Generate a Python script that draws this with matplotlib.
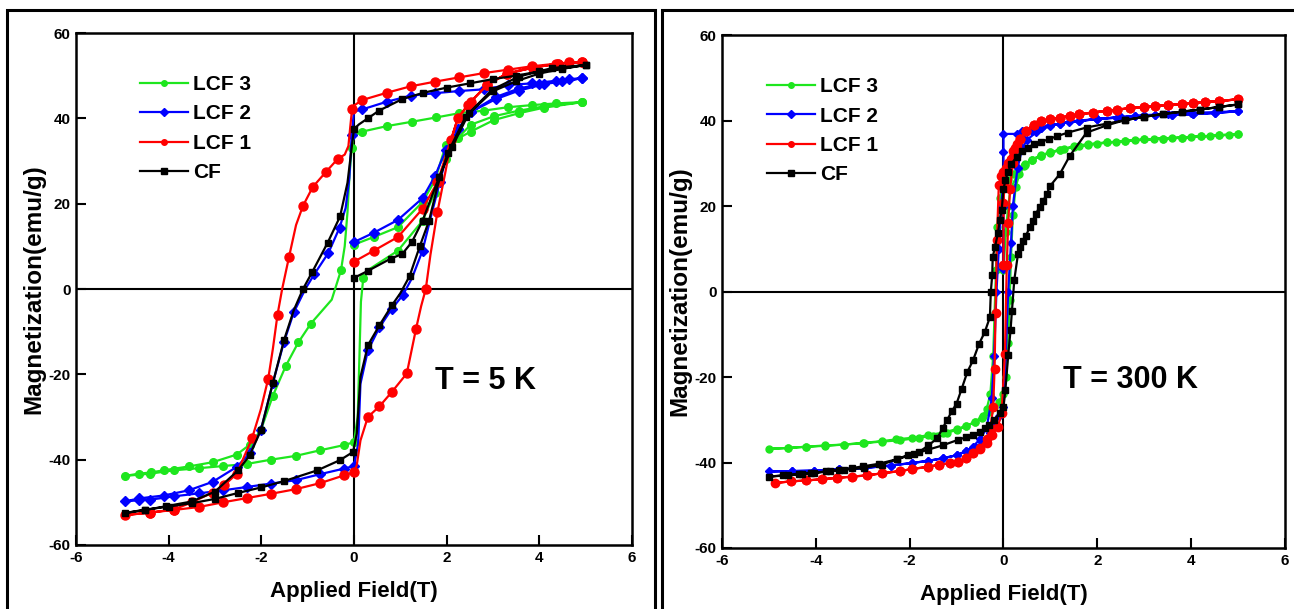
import matplotlib
matplotlib.use('Agg')
import matplotlib.pyplot as plt
from matplotlib.patches import Rectangle

NARROW = ['Liberation Sans Narrow', 'Liberation Sans', 'DejaVu Sans']
WIDE = ['Liberation Sans', 'DejaVu Sans']

labels = ['LCF 3', 'LCF 2', 'LCF 1', 'CF']
colors = ['#1ee61e', '#0000ff', '#ff0000', '#000000']
markers = ['o', 'D', 'o', 's']

x_ticks = [-6, -4, -2, 0, 2, 4, 6]
x_tick_labels = ['-6', '-4', '-2', '0', '2', '4', '6']
y_ticks = [-60, -40, -20, 0, 20, 40, 60]
y_tick_labels = ['-60', '-40', '-20', '0', '20', '40', '60']

# ---- T = 5 K : virgin curve, 5 -> -5 branch, -5 -> 5 branch ----
h_lcf3_5k = [0.0, 0.43, 0.95, 1.48, 1.75, 1.98, 2.52, 3.02, 3.56, 4.1, 4.93,
             4.36, 3.84, 3.32, 2.8, 2.27, 1.77, 1.25, 0.72, 0.18, 0.0, -0.05, -0.1, -0.14, -0.2, -0.28,
             -0.48, -0.93, -1.2, -1.47, -1.75, -2.01, -2.25, -2.53, -3.05, -3.57, -4.11, -4.39, -4.65, -4.94,
             -4.41, -3.89, -3.35, -2.83, -2.31, -1.79, -1.25, -0.73, -0.22, 0.0, 0.08, 0.12, 0.15, 0.2, 0.34,
             0.95, 1.48, 1.74, 1.98, 2.25, 2.52, 3.02, 3.56, 4.1, 4.93]
m_lcf3_5k = [10.4, 12.2, 14.5, 20.4, 25.5, 33.7, 36.9, 39.6, 41.2, 42.5, 43.8,
             43.5, 43.1, 42.6, 41.8, 41.2, 40.2, 39.2, 38.2, 36.9, 36.0, 33.0, 26.0, 18.0, 10.0, 4.4,
             -2.5, -8.1, -12.5, -18.0, -25.0, -33.1, -36.5, -38.8, -40.6, -41.6, -42.5, -43.0, -43.3, -43.8,
             -43.3, -42.5, -42.0, -41.5, -41.0, -40.0, -39.1, -37.8, -36.6, -35.9, -30.0, -15.0, -3.0, 2.5, 4.7,
             9.0, 16.0, 22.5, 30.5, 35.5, 38.5, 40.5, 41.8, 42.8, 43.8]

h_lcf2_5k = [0.0, 0.43, 0.95, 1.48, 1.75, 1.98, 2.25, 2.52, 3.06, 3.56, 4.1, 4.93,
             4.64, 4.36, 3.84, 3.32, 2.8, 2.27, 1.75, 1.22, 0.71, 0.18, 0.0, -0.05, -0.1, -0.18, -0.31,
             -0.55, -0.86, -1.05, -1.3, -1.51, -1.75, -2.01, -2.25, -2.53, -3.05, -3.57, -4.11, -4.65, -4.94,
             -4.65, -4.41, -3.89, -3.35, -2.83, -2.31, -1.79, -1.25, -0.73, -0.22, 0.0, 0.09, 0.14, 0.3,
             0.55, 0.82, 1.05, 1.25, 1.48, 1.65, 1.85, 2.02, 2.25, 2.52, 3.06, 3.56, 4.0, 4.5, 4.93]
m_lcf2_5k = [11.0, 13.2, 16.2, 21.3, 26.5, 32.5, 37.5, 41.5, 44.5, 46.5, 48.0, 49.4,
             49.2, 48.8, 48.2, 47.8, 46.8, 46.4, 45.9, 45.3, 43.9, 42.1, 41.6, 36.0, 26.0, 19.0, 14.4,
             8.5, 3.4, 0.0, -5.5, -12.4, -22.0, -33.1, -38.5, -41.7, -45.2, -47.2, -48.4, -49.1, -49.8,
             -49.5, -49.4, -48.6, -47.9, -47.2, -46.4, -45.6, -44.8, -43.4, -42.1, -41.5, -36.3, -22.2, -14.4,
             -9.0, -4.6, -1.5, 2.5, 9.0, 16.5, 25.0, 32.0, 37.5, 41.5, 45.0, 47.0, 48.0, 48.8, 49.4]

h_lcf1_5k = [0.0, 0.43, 0.95, 1.48, 1.8, 2.24, 2.46, 2.87, 3.3, 3.87, 4.4, 4.93,
             4.64, 4.36, 3.84, 3.32, 2.8, 2.27, 1.75, 1.22, 0.71, 0.18, 0.0, -0.04, -0.08, -0.12, -0.2, -0.35,
             -0.6, -0.89, -1.1, -1.25, -1.4, -1.55, -1.65, -1.75, -1.85, -2.01, -2.2, -2.53, -2.8, -3.05,
             -3.5, -3.89, -4.41, -4.94,
             -4.41, -3.89, -3.35, -2.83, -2.31, -1.79, -1.25, -0.73, -0.22, 0.0, 0.06, 0.14, 0.3, 0.55,
             0.82, 1.14, 1.34, 1.45, 1.55, 1.65, 1.8, 1.98, 2.1, 2.24, 2.52, 2.87, 3.3, 3.87, 4.4, 4.93]
m_lcf1_5k = [6.4, 9.0, 12.2, 18.8, 25.0, 40.0, 43.2, 47.8, 50.5, 51.9, 52.8, 53.2,
             53.1, 52.8, 52.2, 51.4, 50.6, 49.6, 48.6, 47.5, 46.0, 44.3, 43.0, 42.3, 38.0, 33.5, 31.5, 30.5,
             27.5, 23.9, 19.5, 15.0, 7.6, 0.0, -6.0, -14.0, -21.0, -28.2, -35.0, -43.3, -46.0, -47.7,
             -50.0, -51.7, -52.4, -53.0,
             -52.4, -51.8, -51.1, -50.0, -49.0, -48.0, -46.9, -45.5, -43.7, -42.9, -41.3, -35.5, -30.0, -27.5,
             -24.1, -19.8, -9.3, -4.0, 0.0, 8.0, 18.0, 27.8, 35.0, 40.0, 43.9, 47.8, 50.5, 51.9, 52.8, 53.2]

h_cf_5k = [0.0, 0.31, 0.79, 1.04, 1.25, 1.48, 1.84, 2.12, 2.48, 2.98, 3.56, 4.28, 5.0,
           4.5, 4.0, 3.5, 3.0, 2.5, 2.0, 1.5, 1.04, 0.54, 0.3, 0.11, 0.0, -0.04, -0.14, -0.3,
           -0.57, -0.9, -1.1, -1.3, -1.51, -1.75, -2.01, -2.25, -2.5, -3.0, -3.5, -4.05, -4.5, -4.94,
           -4.5, -4.0, -3.5, -3.0, -2.5, -2.0, -1.5, -0.79, -0.3, -0.02, 0.06, 0.14, 0.3, 0.55,
           0.82, 1.0, 1.2, 1.42, 1.62, 1.8, 2.02, 2.41, 2.99, 3.5, 4.0, 4.5, 5.0]
m_cf_5k = [2.6, 4.3, 7.1, 8.2, 11.0, 16.0, 26.3, 33.3, 41.2, 46.7, 49.8, 51.8, 52.5,
           51.7, 51.0, 50.0, 49.2, 48.2, 47.2, 46.0, 44.5, 41.8, 40.0, 38.6, 37.5, 34.0, 24.9, 17.0,
           10.8, 4.0, 0.0, -5.0, -12.0, -22.0, -33.1, -39.0, -42.5, -47.5, -49.8, -50.9, -51.8, -52.5,
           -51.7, -51.0, -50.2, -49.2, -47.8, -46.5, -45.0, -42.5, -40.1, -38.2, -33.9, -20.6, -13.2, -8.5,
           -3.8, -1.0, 3.0, 10.0, 16.0, 24.0, 31.8, 40.4, 46.3, 48.7, 50.5, 51.6, 52.5]

# ---- T = 300 K ----
h_lcf3_300k = [0.0, 0.05, 0.1, 0.15,
               0.3, 0.45, 0.6, 0.8, 1.0, 1.2, 1.5, 1.8, 2.2, 2.6, 3.0, 3.4, 3.8, 4.2, 4.6, 5.0,
               4.6, 4.2, 3.8, 3.4, 3.0, 2.6, 2.2, 1.8, 1.5, 1.2, 1.0, 0.8, 0.6, 0.45, 0.3, 0.2, 0.1, 0.0,
               -0.08, -0.13, -0.16, -0.19, -0.22, -0.28, -0.36, -0.44, -0.6, -0.81, -1.0, -1.29, -1.6,
               -1.94, -2.3, -2.6, -2.98, -3.4, -3.8, -4.2, -4.6, -5.0,
               -4.6, -4.2, -3.8, -3.4, -3.0, -2.6, -2.2, -1.8, -1.5, -1.2, -1.0, -0.8, -0.6, -0.45, -0.3,
               -0.2, -0.1, 0.0, 0.06, 0.1, 0.13, 0.16, 0.2, 0.26, 0.34, 0.44, 0.6, 0.8, 1.0, 1.3, 1.6,
               2.0, 2.4, 2.8, 3.2, 3.6, 4.0, 4.4, 4.8, 5.0]
m_lcf3_300k = [5.0, 14.0, 20.0, 24.0,
               27.5, 29.6, 30.8, 31.8, 32.5, 33.1, 33.9, 34.4, 34.9, 35.2, 35.6, 35.8, 36.0, 36.3, 36.6, 36.8,
               36.6, 36.3, 36.0, 35.8, 35.6, 35.2, 34.9, 34.5, 34.0, 33.2, 32.6, 31.8, 30.8, 29.8, 28.5,
               27.5, 26.0, 24.5,
               22.0, 15.0, 5.0, -5.0, -15.0, -24.0, -27.5, -29.0, -30.5, -31.5, -32.2, -33.0, -33.6,
               -34.2, -34.6, -35.0, -35.4, -35.8, -36.1, -36.3, -36.6, -36.8,
               -36.6, -36.3, -36.0, -35.8, -35.5, -35.1, -34.8, -34.2, -33.7, -33.0, -32.4, -31.5, -30.5,
               -29.5, -28.2, -27.0, -25.8, -24.0, -20.0, -12.0, -2.0, 8.0, 18.0, 24.5, 27.5, 29.5, 30.9,
               31.9, 32.6, 33.4, 34.0, 34.6, 35.1, 35.4, 35.7, 36.0, 36.2, 36.4, 36.7, 36.8]

h_lcf2_300k = [0.0, 0.0, 0.0, 0.0, 0.28, 0.4,
               0.6, 0.81, 1.0, 1.2, 1.61, 2.0, 2.42, 2.8, 3.23, 3.6, 4.03, 4.5, 5.0,
               4.5, 4.03, 3.6, 3.23, 2.8, 2.42, 2.0, 1.61, 1.2, 1.0, 0.81, 0.6, 0.4, 0.3, 0.2, 0.1, 0.0,
               -0.05, -0.1, -0.15, -0.2, -0.25, -0.36, -0.5, -0.65, -0.81, -1.0, -1.29, -1.6, -1.94,
               -2.4, -2.98, -3.5, -4.03, -4.5, -5.0,
               -4.5, -4.03, -3.5, -2.98, -2.4, -1.94, -1.6, -1.29, -1.0, -0.81, -0.6, -0.45, -0.36,
               -0.28, -0.2, -0.1, 0.0, 0.05, 0.1, 0.16, 0.2, 0.3, 0.4, 0.5, 0.7, 1.0, 1.4, 2.0, 2.5,
               3.0, 3.5, 4.0, 4.5, 5.0]
m_lcf2_300k = [5.4, 19.8, 32.7, 36.9, 36.9, 37.5,
               38.0, 38.4, 38.9, 39.3, 39.9, 40.4, 40.7, 41.0, 41.3, 41.4, 41.5, 41.8, 42.2,
               41.8, 41.5, 41.4, 41.3, 41.0, 40.7, 40.4, 39.9, 39.3, 38.9, 38.4, 37.5, 36.0, 34.5, 32.0,
               29.0, 26.0,
               20.0, 10.0, 0.0, -15.0, -25.0, -32.0, -34.5, -36.3, -37.4, -38.3, -39.0, -39.6, -40.1,
               -40.7, -41.3, -41.6, -41.9, -42.0, -42.1,
               -42.0, -41.9, -41.6, -41.3, -40.7, -40.1, -39.6, -39.0, -38.3, -37.4, -36.3, -35.3, -35.1,
               -33.0, -31.0, -29.0, -27.0, -15.0, 0.0, 11.4, 20.0, 29.0, 33.5, 35.5, 37.3, 38.8, 39.8,
               40.4, 40.9, 41.3, 41.5, 41.8, 42.0, 42.2]

h_lcf1_300k = [0.0, 0.0, 0.02,
               0.1, 0.2, 0.28, 0.36, 0.48, 0.65, 0.81, 1.0, 1.21, 1.41, 1.61, 1.9, 2.2, 2.42, 2.7, 3.0,
               3.23, 3.5, 3.8, 4.03, 4.3, 4.6, 5.0,
               4.6, 4.3, 4.03, 3.8, 3.5, 3.23, 3.0, 2.7, 2.42, 2.2, 1.9, 1.61, 1.41, 1.21, 1.0, 0.81,
               0.65, 0.48, 0.36, 0.25, 0.15, 0.05, 0.0, -0.05, -0.1, -0.14, -0.17, -0.19, -0.22,
               -0.28, -0.36, -0.5, -0.65, -0.8, -0.97, -1.15, -1.37, -1.6, -1.94, -2.2, -2.58, -2.9,
               -3.23, -3.55, -3.87, -4.2, -4.52, -4.88,
               -4.52, -4.2, -3.87, -3.55, -3.23, -2.9, -2.58, -2.2, -1.94, -1.6, -1.37, -1.15, -0.97,
               -0.8, -0.65, -0.5, -0.36, -0.24, -0.12, -0.04, 0.03, 0.07, 0.1, 0.14, 0.2, 0.28, 0.36,
               0.48, 0.65, 0.81, 1.0, 1.21, 1.41, 1.61, 1.9, 2.2, 2.42, 2.7, 3.0, 3.23, 3.5, 3.8, 4.03,
               4.3, 4.6, 5.0]
m_lcf1_300k = [6.2, 20.8, 25.0,
               30.0, 33.0, 34.5, 35.7, 37.6, 39.1, 39.9, 40.3, 40.7, 41.1, 41.5, 41.9, 42.3, 42.6, 42.9,
               43.2, 43.4, 43.6, 43.9, 44.2, 44.4, 44.6, 45.0,
               44.6, 44.4, 44.2, 43.9, 43.6, 43.4, 43.2, 42.9, 42.6, 42.3, 41.9, 41.5, 41.1, 40.7, 40.3,
               39.9, 39.1, 37.6, 35.7, 33.5, 31.0, 29.0, 28.0, 27.0, 25.0, 12.0, -5.0, -18.0, -27.0,
               -32.0, -34.5, -36.5, -37.8, -39.0, -39.8, -40.2, -40.5, -41.0, -41.5, -42.0, -42.5, -43.0,
               -43.3, -43.6, -43.9, -44.2, -44.4, -44.8,
               -44.4, -44.2, -43.9, -43.6, -43.3, -43.0, -42.5, -42.0, -41.5, -41.0, -40.5, -40.2,
               -39.8, -39.0, -37.8, -36.8, -35.5, -33.6, -31.6, -28.5, -14.6, 6.2, 16.0, 24.0, 30.0,
               33.5, 35.7, 37.6, 39.1, 39.9, 40.3, 40.7, 41.1, 41.5, 41.9, 42.3, 42.6, 42.9, 43.2, 43.4,
               43.6, 43.9, 44.2, 44.4, 44.6, 45.0]

h_cf_300k = [5.0, 4.6, 4.19, 3.8, 3.39, 3.0, 2.58, 2.2, 1.77, 1.37, 1.15, 0.97, 0.8, 0.65, 0.52, 0.4,
             0.28, 0.16, 0.1, 0.04, 0.0, -0.04, -0.08, -0.12, -0.18, -0.23, -0.24, -0.27, -0.29,
             -0.4, -0.52, -0.65, -0.77, -0.89, -1.0, -1.1, -1.2, -1.3, -1.41, -1.6, -1.81, -2.03,
             -2.26, -2.66, -3.0, -3.23, -3.5, -3.79, -4.1, -4.35, -4.7, -5.0,
             -4.6, -4.3, -4.03, -3.7, -3.4, -2.98, -2.6, -2.26, -1.9, -1.61, -1.3, -0.97, -0.8, -0.65,
             -0.5, -0.4, -0.3, -0.2, -0.08, 0.0, 0.04, 0.1, 0.15, 0.18, 0.23, 0.31, 0.36, 0.42, 0.48,
             0.56, 0.62, 0.69, 0.77, 0.85, 0.92, 1.0, 1.2, 1.41, 1.77, 2.2, 2.58, 3.0, 3.39, 3.8,
             4.19, 4.6, 5.0]
m_cf_300k = [43.8, 43.2, 42.6, 42.1, 41.5, 40.9, 40.1, 39.3, 38.4, 37.2, 36.4, 35.7, 35.0, 34.5, 33.7,
             32.9, 31.5, 29.8, 28.0, 26.0, 24.0, 19.0, 16.7, 13.6, 10.5, 8.1, 3.9, 0.0, -6.0,
             -9.5, -12.2, -16.1, -18.8, -22.7, -26.2, -28.0, -30.0, -32.0, -34.3, -36.0, -37.6, -38.2,
             -39.2, -40.3, -40.9, -41.3, -41.7, -42.1, -42.4, -42.6, -43.0, -43.3,
             -43.0, -42.8, -42.5, -42.0, -41.7, -41.3, -40.5, -39.2, -38.0, -37.0, -36.0, -34.7, -34.1,
             -33.6, -32.8, -32.0, -31.2, -30.0, -28.5, -27.0, -23.1, -14.9, -9.1, -4.5, 2.7, 8.9, 10.5,
             11.8, 13.1, 15.1, 16.5, 18.2, 19.8, 21.3, 22.8, 24.8, 27.5, 31.7, 37.2, 38.9, 40.1, 40.9,
             41.6, 42.1, 42.6, 43.2, 43.8]

panels = [
    ([h_lcf3_5k, h_lcf2_5k, h_lcf1_5k, h_cf_5k],
     [m_lcf3_5k, m_lcf2_5k, m_lcf1_5k, m_cf_5k], 'T = 5 K', (2.83, -21.6)),
    ([h_lcf3_300k, h_lcf2_300k, h_lcf1_300k, h_cf_300k],
     [m_lcf3_300k, m_lcf2_300k, m_lcf1_300k, m_cf_300k], 'T = 300 K', (2.71, -20.6)),
]


def spaced_marks(h, step):
    # only put a symbol where the field has moved on by at least `step`
    keep = []
    last = None
    for x in h:
        ok = last is None or abs(x - last) >= step
        keep.append(ok)
        if ok:
            last = x
    return keep


fig = plt.figure(figsize=(12.94, 6.09), dpi=100)
fig.patch.set_facecolor('white')

axes_rects = [[0.0587, 0.1051, 0.4297, 0.8407], [0.558, 0.1002, 0.435, 0.842]]
marker_sizes = [[5.5, 5, 6.5, 4.5], [5, 4.5, 6, 4]]
mark_steps = [0.2, 0.0]
legend_x = [0.115, 0.08]
tick_font = {'family': NARROW, 'weight': 'bold', 'size': 11}

for k, (hs, ms, temp, tpos) in enumerate(panels):
    ax = fig.add_axes(axes_rects[k])
    ax.axhline(0, color='black', lw=1.5, zorder=1)
    ax.axvline(0, color='black', lw=1.5, zorder=1)
    for i in range(4):
        ax.plot(hs[i], ms[i], color=colors[i], marker=markers[i], ms=marker_sizes[k][i],
                markevery=spaced_marks(hs[i], mark_steps[k]),
                lw=1.6, label=labels[i], zorder=3 + (i == 3))
    ax.set_xlim(-6, 6)
    ax.set_ylim(-60, 60)
    ax.set_xticks(x_ticks)
    ax.set_xticklabels(x_tick_labels, fontdict=tick_font)
    ax.set_yticks(y_ticks)
    ax.set_yticklabels(y_tick_labels, fontdict=tick_font)
    ax.tick_params(direction='in', length=7, width=1.5, top=False, right=False, pad=4)
    for s in ax.spines.values():
        s.set_linewidth(1.8)
    ax.set_xlabel('Applied Field(T)', fontsize=16, fontweight='bold', family=NARROW, labelpad=12)
    ax.set_ylabel('Magnetization(emu/g)', fontsize=17.5, fontweight='bold', family=WIDE, labelpad=2)
    ax.text(tpos[0], tpos[1], temp, fontsize=22, fontweight='bold', family=NARROW,
            ha='center', va='center')
    leg = ax.legend(loc='upper left', bbox_to_anchor=(legend_x[k], 0.918), frameon=False,
                    borderpad=0, borderaxespad=0, handlelength=2.3, handletextpad=0.25,
                    labelspacing=0.5, prop={'family': NARROW, 'weight': 'bold', 'size': 15})
    for ln in leg.get_lines():
        ln.set_markersize(4)

# panel borders
fig.add_artist(Rectangle((7 / 1294, -0.02), 648 / 1294, 1.0036, transform=fig.transFigure,
                         fill=False, lw=2.2, ec='black'))
fig.add_artist(Rectangle((662 / 1294, -0.02), 640 / 1294, 1.0036, transform=fig.transFigure,
                         fill=False, lw=2.2, ec='black'))

plt.savefig('out.png', dpi=100)
